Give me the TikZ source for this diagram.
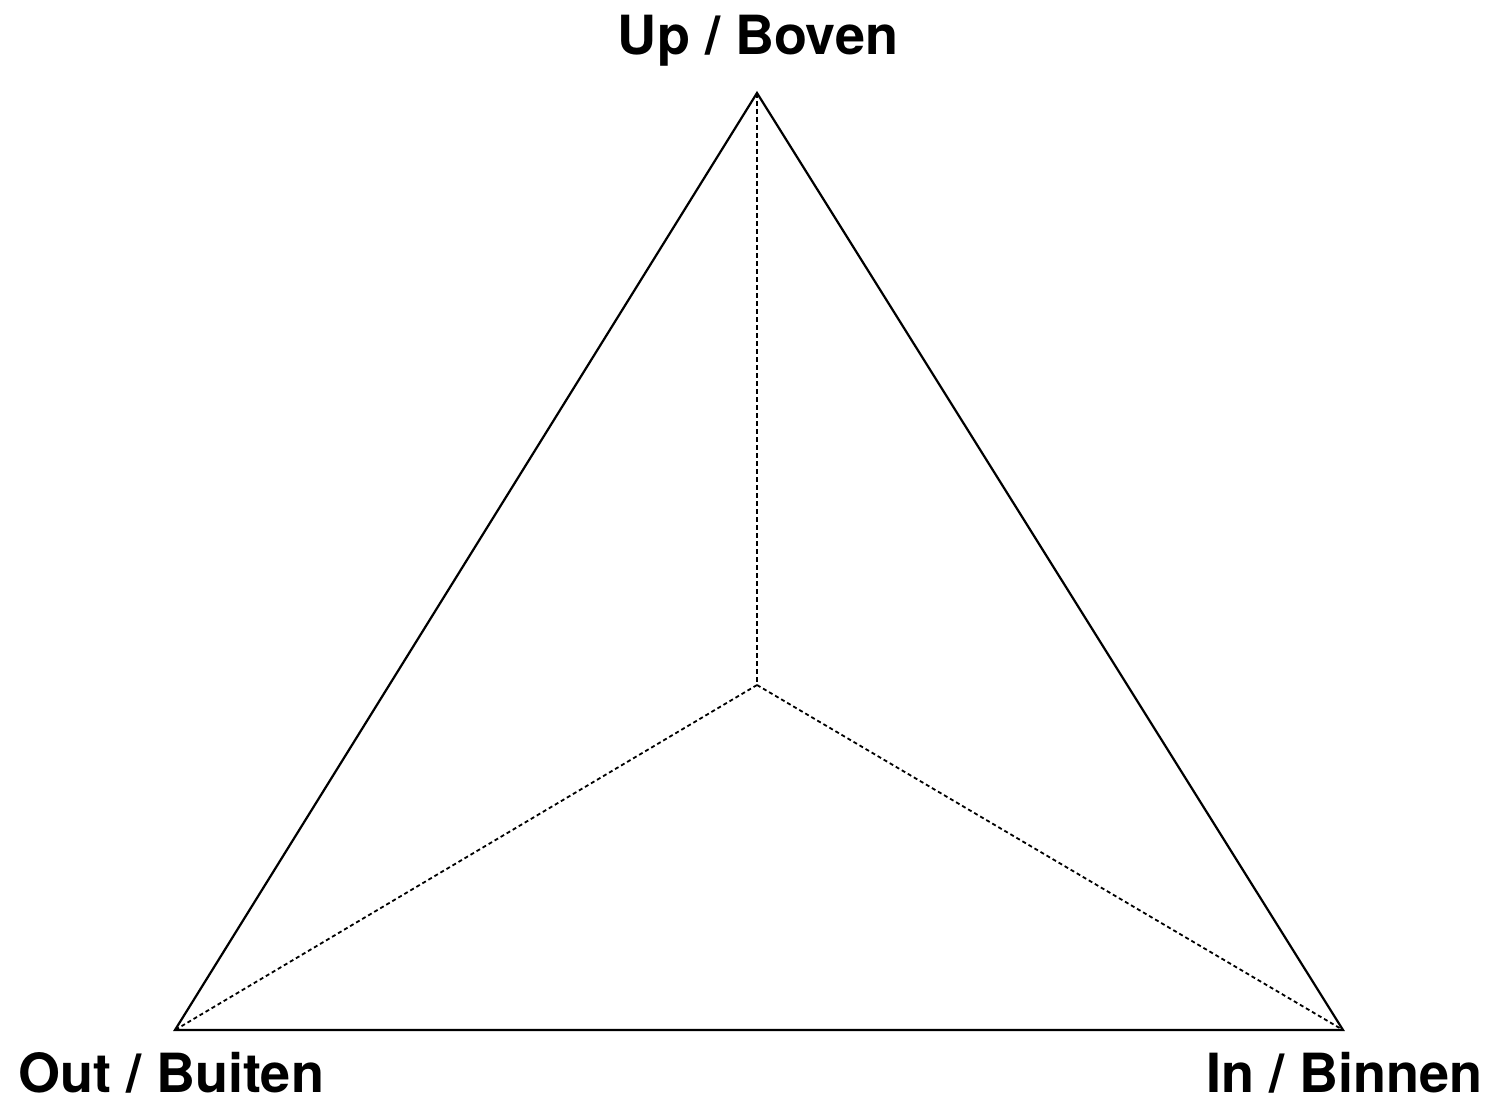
\documentclass[tikz,border=0pt]{standalone}
\usepackage{fontspec}
\setmainfont{TeX Gyre Heros}
\begin{document}
\begin{tikzpicture}[x=1pt,y=-1pt,
  edge/.style={line width=2.2pt},
  guide/.style={line width=1.8pt,dash pattern=on 4pt off 3pt},
  vguide/.style={line width=2.4pt,dash pattern=on 5pt off 3pt},
  lbl/.style={font=\fontsize{54}{62}\selectfont\bfseries,inner sep=0pt}]
\useasboundingbox (0,0) rectangle (1492,1105);
\coordinate (top) at (757,93);
\coordinate (bl) at (175,1030);
\coordinate (br) at (1343,1030);
\coordinate (c) at (757,685);
\draw[edge,line join=miter] (top) -- (br) -- (bl) -- cycle;
\draw[vguide] (top) -- (c);
\draw[guide] (c) -- (bl);
\draw[guide] (c) -- (br);
\node[lbl,anchor=base] (up) at (758,55) {Up / Boven};
\node[lbl,anchor=base west] (out) at (18,1092) {Out / Buiten};
\node[lbl,anchor=base east] (in) at (1483,1092) {In / Binnen};
\end{tikzpicture}
\end{document}
